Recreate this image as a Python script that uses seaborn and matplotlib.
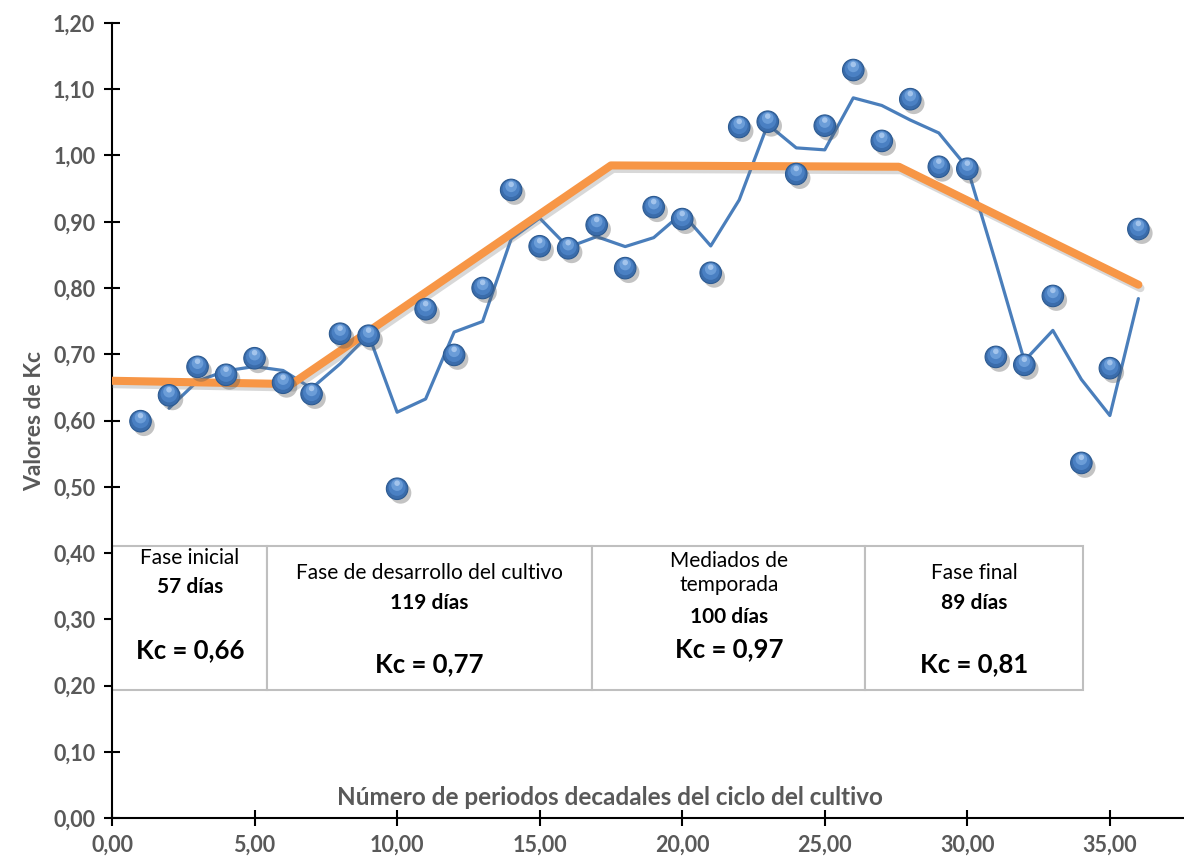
import numpy as np
import pandas as pd
import seaborn as sns
import matplotlib
matplotlib.use("Agg")
import matplotlib.pyplot as plt
import matplotlib.patheffects as pe
from matplotlib.transforms import offset_copy
from matplotlib.patches import Rectangle
from matplotlib.ticker import FuncFormatter, MultipleLocator

# Kc observed per ten-day period of the crop cycle
periodos = list(range(1, 37))
kc_obs = [0.599, 0.638, 0.681, 0.669, 0.694, 0.657, 0.640, 0.731, 0.728, 0.497,
          0.768, 0.699, 0.800, 0.948, 0.863, 0.860, 0.895, 0.830, 0.922, 0.904,
          0.823, 1.043, 1.051, 0.972, 1.045, 1.129, 1.022, 1.085, 0.983, 0.980,
          0.696, 0.684, 0.788, 0.536, 0.679, 0.889]

# FAO-style Kc curve (stage breakpoints)
etapa_x = [0.0, 6.3, 17.5, 27.6, 36.0]
etapa_kc = [0.66, 0.655, 0.985, 0.983, 0.805]

# Stage boxes
fases_lim = [0.0, 5.44, 16.84, 26.41, 34.05]
fases_titulo = ["Fase inicial", "Fase de desarrollo del cultivo",
                "Mediados de\ntemporada", "Fase final"]
fases_dias = ["57 días", "119 días", "100 días", "89 días"]
fases_kc = ["Kc = 0,66", "Kc = 0,77", "Kc = 0,97", "Kc = 0,81"]

df = pd.DataFrame({"periodo": periodos, "kc": kc_obs})
df["media"] = df["kc"].rolling(2).mean()
curva = pd.DataFrame({"x": etapa_x, "kc": etapa_kc})

sns.set_theme(style="white")
plt.rcParams["font.family"] = ["Lato", "DejaVu Sans"]

gris = "#595959"
azul = "#4A7EBB"
naranja = "#F79646"

fig = plt.figure(figsize=(11.84, 8.64), dpi=100)
ax = fig.add_axes([0.0946, 0.0532, 1.0 - 0.0946, 0.9734 - 0.0532])

# two-period moving average
sns.lineplot(data=df.dropna(), x="periodo", y="media", ax=ax, color=azul,
             linewidth=2.3, zorder=3)

# stage Kc curve with soft shadow
sns.lineplot(data=curva, x="x", y="kc", ax=ax, color=naranja, linewidth=5.8,
             zorder=4,
             path_effects=[pe.SimpleLineShadow(offset=(1.5, -2.5), shadow_color="gray",
                                               alpha=0.3), pe.Normal()])

# observed points drawn as shaded spheres
sns.scatterplot(data=df, x="periodo", y="kc", ax=ax, s=240, color="#3A6CAB",
                edgecolor="#2C5A91", linewidth=0.8, zorder=5,
                path_effects=[pe.SimplePatchShadow(offset=(2.5, -3), shadow_rgbFace="#555555",
                                                   alpha=0.35), pe.Normal()])
sns.scatterplot(data=df, x="periodo", y="kc", ax=ax, s=150, color="#4A80C3",
                edgecolor="none", zorder=6,
                transform=offset_copy(ax.transData, fig=fig, x=0, y=1.0, units="points"))
sns.scatterplot(data=df, x="periodo", y="kc", ax=ax, s=70, color="#6B9DD8",
                edgecolor="none", zorder=7,
                transform=offset_copy(ax.transData, fig=fig, x=0, y=2.6, units="points"))
sns.scatterplot(data=df, x="periodo", y="kc", ax=ax, s=16, color="#A3C4EC",
                edgecolor="none", zorder=8,
                transform=offset_copy(ax.transData, fig=fig, x=0, y=4.0, units="points"))

# stage boxes
y0, y1 = 0.193, 0.4106
for i in range(4):
    ax.add_patch(Rectangle((fases_lim[i], y0), fases_lim[i + 1] - fases_lim[i], y1 - y0,
                           facecolor="white", edgecolor="#BFBFBF", linewidth=1.5,
                           zorder=2))

cx = [2.736, 11.12, 21.64, 30.23]
ty = [0.3925, 0.3698, 0.3698, 0.3698]
dy = [0.3487, 0.3245, 0.3034, 0.3245]
ky = [0.2536, 0.2325, 0.2551, 0.2325]
for i in range(4):
    ax.text(cx[i], ty[i], fases_titulo[i], ha="center", va="center", fontsize=15,
            color="black", linespacing=1.3, zorder=9)
    ax.text(cx[i], dy[i], fases_dias[i], ha="center", va="center", fontsize=15,
            fontweight="bold", color="black", zorder=9)
    ax.text(cx[i], ky[i], fases_kc[i], ha="center", va="center", fontsize=18.5,
            fontweight="bold", color="black", zorder=9)

ax.text(17.47, 0.0317, "Número de periodos decadales del ciclo del cultivo",
        ha="center", va="center", fontsize=17.5, fontweight="bold", color=gris)
ax.set_xlabel("")
ax.set_ylabel("Valores de Kc", fontsize=16.5, fontweight="bold", color=gris, labelpad=6)

ax.set_xlim(0, 37.6)
ax.set_ylim(0, 1.2)
ax.xaxis.set_major_locator(MultipleLocator(5))
ax.yaxis.set_major_locator(MultipleLocator(0.1))
ax.xaxis.set_major_formatter(FuncFormatter(lambda v, p: f"{v:.2f}".replace(".", ",")))
ax.yaxis.set_major_formatter(FuncFormatter(lambda v, p: f"{v:.2f}".replace(".", ",")))
for lab in ax.get_xticklabels() + ax.get_yticklabels():
    lab.set_fontweight("bold")
ax.tick_params(axis="both", colors="black", labelcolor=gris, labelsize=15.5,
               direction="inout", length=12, width=1.5, pad=6, left=True, bottom=True)
for side in ["top", "right"]:
    ax.spines[side].set_visible(False)
for side in ["left", "bottom"]:
    ax.spines[side].set_color("black")
    ax.spines[side].set_linewidth(1.5)
ax.set_facecolor("white")
ax.patch.set_alpha(0)

fig.savefig("out.png", dpi=100, facecolor="white")
